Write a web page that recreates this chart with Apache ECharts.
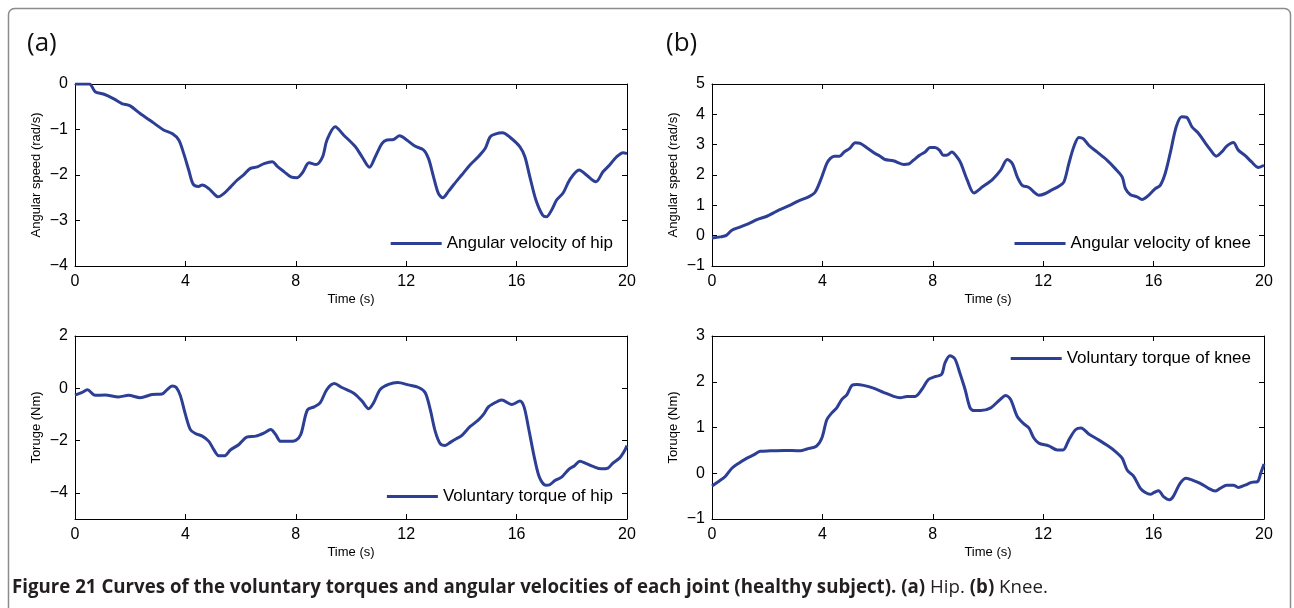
<!DOCTYPE html>
<html>
<head>
<meta charset="utf-8">
<script src="https://cdn.jsdelivr.net/npm/echarts@6/dist/echarts.min.js"></script>
<style>
  html, body { margin: 0; padding: 0; background: #ffffff; }
  #chart { width: 1294px; height: 608px; }
</style>
</head>
<body>
<div id="chart"></div>
<script>
// Time axis ticks (s)
const timeTicks = [0, 4, 8, 12, 16, 20];

// Hip angular velocity (rad/s), [time, value]
const hipVelocity = [
  [0, 0], [0.52, 0], [0.73, -0.17], [1.03, -0.22], [1.39, -0.32], [1.70, -0.43], [2.0, -0.48],
  [2.36, -0.65], [2.79, -0.83], [3.21, -1.01], [3.52, -1.09], [3.76, -1.23], [3.94, -1.53],
  [4.12, -1.89], [4.28, -2.20], [4.48, -2.25], [4.61, -2.22], [4.85, -2.30], [5.03, -2.41],
  [5.18, -2.48], [5.39, -2.41], [5.64, -2.26], [5.88, -2.11], [6.12, -1.99], [6.34, -1.86],
  [6.61, -1.82], [6.85, -1.75], [7.15, -1.71], [7.33, -1.81], [7.58, -1.93], [7.82, -2.04],
  [8.04, -2.06], [8.24, -1.95], [8.48, -1.73], [8.73, -1.77], [8.97, -1.60], [9.13, -1.23],
  [9.43, -0.94], [9.73, -1.12], [10.16, -1.38], [10.40, -1.60], [10.67, -1.83], [10.88, -1.60],
  [11.12, -1.31], [11.30, -1.23], [11.54, -1.22], [11.76, -1.14], [12.02, -1.23], [12.33, -1.37],
  [12.63, -1.45], [12.81, -1.64], [12.99, -2.04], [13.17, -2.41], [13.33, -2.50], [13.53, -2.36],
  [13.71, -2.22], [14.01, -2.00], [14.31, -1.78], [14.61, -1.60], [14.86, -1.42], [15.04, -1.16],
  [15.22, -1.10], [15.49, -1.07], [15.76, -1.17], [16.12, -1.38], [16.30, -1.60], [16.48, -2.04],
  [16.70, -2.55], [16.94, -2.88], [17.08, -2.92], [17.27, -2.77], [17.45, -2.55], [17.69, -2.39],
  [17.93, -2.10], [18.27, -1.89], [18.53, -2.00], [18.87, -2.15], [19.13, -1.93], [19.37, -1.78],
  [19.61, -1.61], [19.86, -1.51], [20, -1.53]
];

// Knee angular velocity (rad/s)
const kneeVelocity = [
  [0, -0.08], [0.30, -0.04], [0.52, 0.01], [0.72, 0.18], [1.03, 0.29], [1.33, 0.40], [1.63, 0.53],
  [1.99, 0.64], [2.35, 0.81], [2.77, 0.98], [3.14, 1.15], [3.50, 1.28], [3.74, 1.44], [3.98, 1.94],
  [4.16, 2.38], [4.28, 2.54], [4.43, 2.62], [4.62, 2.62], [4.79, 2.76], [4.98, 2.87], [5.19, 3.06],
  [5.37, 3.04], [5.61, 2.90], [5.91, 2.71], [6.09, 2.62], [6.27, 2.51], [6.57, 2.47], [6.94, 2.35],
  [7.12, 2.36], [7.30, 2.49], [7.52, 2.65], [7.72, 2.76], [7.90, 2.91], [8.08, 2.91], [8.24, 2.82],
  [8.38, 2.65], [8.50, 2.65], [8.69, 2.76], [8.87, 2.60], [9.01, 2.40], [9.25, 1.83], [9.49, 1.41],
  [9.80, 1.61], [10.16, 1.85], [10.46, 2.16], [10.70, 2.51], [10.88, 2.38], [11.06, 1.94],
  [11.24, 1.66], [11.48, 1.59], [11.66, 1.44], [11.84, 1.33], [12.08, 1.39], [12.33, 1.52],
  [12.57, 1.63], [12.75, 1.77], [12.93, 2.38], [13.11, 2.93], [13.29, 3.24], [13.45, 3.20],
  [13.65, 2.98], [13.95, 2.76], [14.31, 2.49], [14.61, 2.21], [14.86, 1.94], [14.98, 1.55],
  [15.16, 1.35], [15.40, 1.28], [15.58, 1.19], [15.82, 1.33], [16.06, 1.55], [16.24, 1.66],
  [16.42, 2.05], [16.60, 2.71], [16.82, 3.59], [17.02, 3.92], [17.20, 3.90], [17.39, 3.59],
  [17.63, 3.37], [17.87, 3.06], [18.05, 2.84], [18.27, 2.62], [18.47, 2.76], [18.65, 2.95],
  [18.89, 3.07], [19.07, 2.82], [19.31, 2.65], [19.55, 2.43], [19.80, 2.25], [20, 2.32]
];

// Hip voluntary torque (Nm)
const hipTorque = [
  [0, -0.26], [0.24, -0.17], [0.45, -0.06], [0.73, -0.27], [1.09, -0.26], [1.58, -0.33],
  [1.94, -0.27], [2.36, -0.36], [2.79, -0.24], [3.15, -0.22], [3.33, -0.06], [3.52, 0.09],
  [3.67, 0.03], [3.82, -0.29], [4.00, -1.0], [4.18, -1.58], [4.36, -1.73], [4.61, -1.83],
  [4.85, -2.03], [5.03, -2.35], [5.21, -2.58], [5.42, -2.58], [5.64, -2.35], [5.94, -2.15],
  [6.22, -1.87], [6.55, -1.83], [6.85, -1.71], [7.09, -1.58], [7.27, -1.77], [7.45, -2.03],
  [7.70, -2.03], [8.0, -1.99], [8.18, -1.77], [8.42, -0.83], [8.67, -0.71], [8.88, -0.56],
  [9.13, -0.04], [9.40, 0.18], [9.67, 0.03], [10.10, -0.19], [10.40, -0.49], [10.64, -0.78],
  [10.82, -0.55], [11.06, -0.04], [11.36, 0.15], [11.69, 0.22], [12.08, 0.13], [12.45, 0.03],
  [12.69, -0.17], [12.87, -0.81], [13.05, -1.64], [13.23, -2.12], [13.41, -2.19], [13.61, -2.06],
  [13.83, -1.92], [14.01, -1.81], [14.31, -1.47], [14.61, -1.22], [14.80, -1.00], [14.98, -0.71],
  [15.22, -0.55], [15.46, -0.45], [15.82, -0.62], [16.12, -0.49], [16.27, -0.71], [16.42, -1.45],
  [16.66, -2.73], [16.84, -3.44], [17.06, -3.71], [17.20, -3.69], [17.39, -3.53], [17.63, -3.40],
  [17.90, -3.09], [18.10, -2.96], [18.29, -2.79], [18.53, -2.88], [18.77, -2.99], [19.07, -3.08],
  [19.31, -3.05], [19.49, -2.86], [19.73, -2.67], [19.88, -2.45], [20, -2.19]
];

// Knee voluntary torque (Nm)
const kneeTorque = [
  [0, -0.28], [0.24, -0.18], [0.48, -0.07], [0.72, 0.11], [0.97, 0.22], [1.27, 0.33], [1.51, 0.40],
  [1.75, 0.48], [2.11, 0.49], [2.59, 0.50], [3.20, 0.49], [3.44, 0.53], [3.78, 0.59], [3.98, 0.77],
  [4.16, 1.17], [4.34, 1.32], [4.52, 1.43], [4.70, 1.61], [4.89, 1.72], [5.07, 1.92], [5.25, 1.94],
  [5.49, 1.92], [5.85, 1.86], [6.21, 1.77], [6.58, 1.68], [6.82, 1.65], [7.06, 1.68], [7.36, 1.68],
  [7.60, 1.83], [7.84, 2.05], [8.08, 2.11], [8.32, 2.16], [8.44, 2.41], [8.62, 2.57], [8.80, 2.50],
  [8.98, 2.19], [9.17, 1.83], [9.35, 1.43], [9.49, 1.37], [9.73, 1.37], [10.10, 1.43], [10.40, 1.59],
  [10.64, 1.70], [10.82, 1.61], [11.06, 1.24], [11.30, 1.08], [11.48, 0.99], [11.66, 0.77],
  [11.84, 0.66], [12.20, 0.60], [12.51, 0.51], [12.72, 0.51], [12.93, 0.73], [13.17, 0.95],
  [13.37, 0.99], [13.65, 0.86], [14.01, 0.73], [14.37, 0.59], [14.61, 0.48], [14.86, 0.33],
  [15.04, 0.07], [15.28, -0.07], [15.52, -0.33], [15.70, -0.42], [15.88, -0.46], [16.02, -0.42],
  [16.18, -0.38], [16.36, -0.51], [16.58, -0.58], [16.72, -0.50], [16.96, -0.22], [17.18, -0.11],
  [17.45, -0.16], [17.69, -0.22], [17.99, -0.33], [18.23, -0.39], [18.41, -0.33], [18.65, -0.26],
  [18.89, -0.26], [19.07, -0.31], [19.31, -0.26], [19.55, -0.20], [19.77, -0.18], [19.88, 0.00],
  [20, 0.20]
];

// Y-axis tick values per panel
const hipVelocityTicks = [-4, -3, -2, -1, 0];
const kneeVelocityTicks = [-1, 0, 1, 2, 3, 4, 5];
const hipTorqueTicks = [-4, -2, 0, 2];
const kneeTorqueTicks = [-1, 0, 1, 2, 3];

const LINE_COLOR = '#2d3f95';
const AXIS_FONT = 'Liberation Sans, Arial, sans-serif';

const fmt = v => (v < 0 ? '\u2212' + Math.abs(v) : String(v));

const panels = [
  { left: 75,  top: 84,  height: 182, yMin: -4, yMax: 0, ticks: hipVelocityTicks,
    yName: 'Angular speed (rad/s)', name: 'Angular velocity of hip', data: hipVelocity,
    legendRight: 681, legendTop: 235 },
  { left: 712, top: 84,  height: 182, yMin: -1, yMax: 5, ticks: kneeVelocityTicks,
    yName: 'Angular speed (rad/s)', name: 'Angular velocity of knee', data: kneeVelocity,
    legendRight: 43, legendTop: 235 },
  { left: 75,  top: 336, height: 183, yMin: -5, yMax: 2, ticks: hipTorqueTicks,
    yName: 'Toruge (Nm)', name: 'Voluntary torque of hip', data: hipTorque,
    legendRight: 681, legendTop: 488 },
  { left: 712, top: 336, height: 183, yMin: -1, yMax: 3, ticks: kneeTorqueTicks,
    yName: 'Toruqe (Nm)', name: 'Voluntary torque of knee', data: kneeTorque,
    legendRight: 43, legendTop: 350 }
];

const tickStyle = { show: true, inside: true, length: 5, lineStyle: { color: '#000', width: 1 } };
const lineStyle = { show: true, onZero: false, lineStyle: { color: '#000', width: 1 } };

const grid = [], xAxis = [], yAxis = [], series = [], legend = [];

panels.forEach((p, i) => {
  grid.push({ left: p.left, top: p.top, width: 552, height: p.height, containLabel: false });

  // bottom time axis with labels
  xAxis.push({
    gridIndex: i, type: 'value', min: 0, max: 20, interval: 4, position: 'bottom',
    name: 'Time (s)', nameLocation: 'middle', nameGap: 27,
    nameTextStyle: { fontFamily: AXIS_FONT, fontSize: 13, color: '#000' },
    axisLine: lineStyle, axisTick: tickStyle,
    axisLabel: { fontFamily: AXIS_FONT, fontSize: 16, color: '#000', margin: 8,
      customValues: timeTicks, formatter: fmt },
    splitLine: { show: false }
  });
  // top frame edge with inward ticks
  xAxis.push({
    gridIndex: i, type: 'value', min: 0, max: 20, interval: 4, position: 'top',
    axisLine: lineStyle, axisTick: tickStyle, axisLabel: { show: false }, splitLine: { show: false }
  });

  // left value axis with labels
  yAxis.push({
    gridIndex: i, type: 'value', min: p.yMin, max: p.yMax, interval: 1, position: 'left',
    name: p.yName, nameLocation: 'middle', nameGap: 32,
    nameTextStyle: { fontFamily: AXIS_FONT, fontSize: 13, color: '#000' },
    axisLine: lineStyle,
    axisTick: Object.assign({}, tickStyle, { customValues: p.ticks }),
    axisLabel: { fontFamily: AXIS_FONT, fontSize: 16, color: '#000', margin: 7,
      customValues: p.ticks, formatter: fmt },
    splitLine: { show: false }
  });
  // right frame edge with inward ticks
  yAxis.push({
    gridIndex: i, type: 'value', min: p.yMin, max: p.yMax, interval: 1, position: 'right',
    axisLine: lineStyle,
    axisTick: Object.assign({}, tickStyle, { customValues: p.ticks }),
    axisLabel: { show: false }, splitLine: { show: false }
  });

  series.push({
    name: p.name, type: 'line', xAxisIndex: i * 2, yAxisIndex: i * 2,
    data: p.data, showSymbol: false, symbol: 'none', smooth: 0.3,
    lineStyle: { color: LINE_COLOR, width: 3 }, itemStyle: { color: LINE_COLOR },
    animation: false, silent: true
  });

  legend.push({
    data: [p.name], right: p.legendRight, top: p.legendTop, padding: 0,
    icon: 'rect', itemWidth: 51, itemHeight: 3, selectedMode: false,
    textStyle: { fontFamily: AXIS_FONT, fontSize: 17, color: '#000' }
  });
});

const chart = echarts.init(document.getElementById('chart'), null, { renderer: 'canvas' });
chart.setOption({
  backgroundColor: '#ffffff',
  animation: false,
  grid, xAxis, yAxis, series, legend,
  graphic: [
    { type: 'rect', shape: { x: 8.5, y: 8.5, width: 1282, height: 640, r: 6 },
      style: { fill: 'none', stroke: '#8c8c8c', lineWidth: 1.5 }, silent: true },
    { type: 'text', left: 27, top: 31,
      style: { text: '(a)', font: '26px "Open Sans", sans-serif', fill: '#111' } },
    { type: 'text', left: 666, top: 31,
      style: { text: '(b)', font: '26px "Open Sans", sans-serif', fill: '#111' } },
    { type: 'text', left: 12, top: 578,
      style: {
        text: '{b|Figure 21 Curves of the voluntary torques and angular velocities of each joint (healthy subject). (a)}{n| Hip. }{b|(b)}{n| Knee.}',
        rich: {
          b: { fontFamily: 'Open Sans', fontWeight: 'bold', fontSize: 18.7, fill: '#231f20' },
          n: { fontFamily: 'Open Sans', fontWeight: 'normal', fontSize: 18.7, fill: '#231f20' }
        }
      } }
  ]
});
</script>
</body>
</html>
